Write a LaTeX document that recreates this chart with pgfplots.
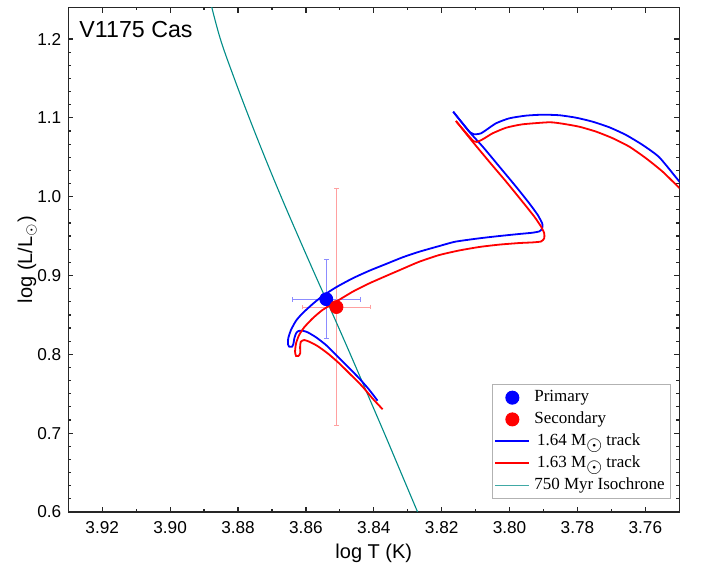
\documentclass[border=0pt]{standalone}
\usepackage{fontspec}
\setmainfont{Liberation Sans}
\newfontfamily\legfont{Liberation Serif}
\usepackage{graphicx}
\usepackage{pgfplots}
\pgfplotsset{compat=1.18}

\definecolor{trackblue}{RGB}{0,0,255}
\definecolor{trackred}{RGB}{255,0,0}
\definecolor{isoteal}{RGB}{0,140,135}
\definecolor{errblue}{RGB}{140,140,255}
\definecolor{errred}{RGB}{255,160,160}

\newcommand{\sun}{\raisebox{-0.55ex}{\scalebox{1.2}{$\odot$}}}

\begin{document}
\begin{tikzpicture}
\begin{axis}[
  name=ax,
  scale only axis,
  width=305.5pt, height=252.25pt,
  x dir=reverse,
  xmin=3.75, xmax=3.93,
  ymin=0.6, ymax=1.24,
  xtick={3.76,3.78,3.80,3.82,3.84,3.86,3.88,3.90,3.92},
  ytick={0.6,0.7,0.8,0.9,1.0,1.1,1.2},
  minor x tick num=1,
  minor y tick num=5,
  tick align=inside,
  major tick length=2.6pt, minor tick length=1.5pt,
  every tick/.style={black!85, line width=0.6pt},
  axis line style={line width=0.6pt, black!85},
  /pgf/number format/assume math mode=true,
  xticklabel style={/pgf/number format/fixed, /pgf/number format/fixed zerofill,
    /pgf/number format/precision=2, yshift=-1.4pt},
  yticklabel style={/pgf/number format/fixed, /pgf/number format/fixed zerofill,
    /pgf/number format/precision=1},
  tick label style={font=\fontsize{8.6}{10}\selectfont},
  label style={font=\fontsize{9}{11}\selectfont},
  xlabel={log T (K)},
  ylabel={log (L/L$_{\odot}$)},
  every axis x label/.style={at={(rel axis cs:0.5,0)}, yshift=-20.5pt, anchor=center},
  every axis y label/.style={at={(rel axis cs:0,0.5)}, xshift=-20.5pt, rotate=90, anchor=center},
  legend cell align=left,
  legend style={at={(rel axis cs:0.986,0.026)}, anchor=south east,
    draw=gray!60, line width=0.5pt, inner sep=0.8pt, row sep=-0.4pt,
    font=\legfont\fontsize{8.5}{9.7}\selectfont},
]

% error bars
\addplot[only marks, mark=none, forget plot,
  error bars/.cd, x dir=both, x explicit, y dir=both, y explicit,
  error bar style={errblue, line width=0.45pt},
  error mark options={rotate=90, errblue, mark size=1.2pt, line width=0.45pt}]
  coordinates {(3.854,0.87) +- (0.010,0.05)};
\addplot[only marks, mark=none, forget plot,
  error bars/.cd, x dir=both, x explicit, y dir=both, y explicit,
  error bar style={errred, line width=0.45pt},
  error mark options={rotate=90, errred, mark size=1.2pt, line width=0.45pt}]
  coordinates {(3.851,0.86) +- (0.010,0.15)};

% 750 Myr isochrone
\addplot[isoteal, line width=0.55pt, smooth, tension=0.6, forget plot] coordinates {
  (3.8883,1.2500) (3.8852,1.2000) (3.8811,1.1500) (3.8767,1.1000)
  (3.8721,1.0500) (3.8673,1.0000) (3.8623,0.9500) (3.8572,0.9000)
  (3.8520,0.8500) (3.8469,0.8000) (3.8419,0.7500) (3.8369,0.7000)
  (3.8320,0.6500) (3.8271,0.6000) (3.8261,0.5900)
};

% 1.64 Msun track: ZAMS to the blue tip
\addplot[trackblue, line width=0.9pt, smooth, tension=0.35, forget plot] coordinates {
  (3.8389,0.7412) (3.8413,0.7548) (3.8443,0.7696) (3.8472,0.7823)
  (3.8511,0.7992) (3.8541,0.8119) (3.8570,0.8216) (3.8595,0.8280)
  (3.8610,0.8300) (3.8622,0.8296) (3.8629,0.8267) (3.8634,0.8204)
  (3.8637,0.8130) (3.8641,0.8097) (3.8649,0.8097) (3.8653,0.8131)
  (3.8652,0.8204) (3.8644,0.8309) (3.8629,0.8427) (3.8610,0.8521)
  (3.8580,0.8639) (3.8551,0.8740) (3.8511,0.8851) (3.8462,0.8965)
  (3.8413,0.9061) (3.8364,0.9146) (3.8315,0.9231) (3.8266,0.9302)
  (3.8207,0.9374) (3.8160,0.9429) (3.8089,0.9472) (3.8030,0.9501)
  (3.7971,0.9527) (3.7932,0.9543) (3.7912,0.9560) (3.7905,0.9590)
  (3.7903,0.9620) (3.7904,0.9662) (3.7917,0.9768) (3.7942,0.9916)
  (3.7981,1.0127) (3.8030,1.0381) (3.8079,1.0634) (3.8119,1.0825)
  (3.8166,1.1078)
};
% 1.64 Msun track: back through the dip and across the top
\addplot[trackblue, line width=0.9pt, smooth, tension=0.35, forget plot] coordinates {
  (3.8166,1.1078) (3.8116,1.0815) (3.8099,1.0792) (3.8084,1.0804)
  (3.8069,1.0846) (3.8040,1.0931) (3.8001,1.0994) (3.7952,1.1028)
  (3.7903,1.1040) (3.7853,1.1033) (3.7804,1.1002) (3.7755,1.0951)
  (3.7706,1.0880) (3.7657,1.0783) (3.7608,1.0656) (3.7559,1.0500)
  (3.7502,1.0203) (3.7480,1.0089)
};

% 1.63 Msun track: ZAMS to the red tip
\addplot[trackred, line width=0.9pt, smooth, tension=0.35, forget plot] coordinates {
  (3.8374,0.7303) (3.8404,0.7442) (3.8433,0.7590) (3.8462,0.7716)
  (3.8502,0.7886) (3.8536,0.8013) (3.8566,0.8106) (3.8590,0.8160)
  (3.8605,0.8182) (3.8615,0.8160) (3.8617,0.8097) (3.8617,0.8013)
  (3.8622,0.7979) (3.8629,0.7979) (3.8632,0.8034) (3.8629,0.8140)
  (3.8620,0.8245) (3.8605,0.8343) (3.8580,0.8457) (3.8551,0.8563)
  (3.8511,0.8668) (3.8462,0.8795) (3.8413,0.8901) (3.8364,0.8994)
  (3.8315,0.9085) (3.8266,0.9175) (3.8207,0.9260) (3.8148,0.9318)
  (3.8089,0.9362) (3.8030,0.9392) (3.7971,0.9412) (3.7932,0.9420)
  (3.7907,0.9432) (3.7898,0.9472) (3.7898,0.9536) (3.7907,0.9619)
  (3.7927,0.9746) (3.7962,0.9936) (3.8010,1.0190) (3.8060,1.0444)
  (3.8109,1.0698) (3.8158,1.0960)
};
% 1.63 Msun track: back through the dip and across the top
\addplot[trackred, line width=0.9pt, smooth, tension=0.35, forget plot] coordinates {
  (3.8158,1.0960) (3.8106,1.0703) (3.8089,1.0707)
  (3.8074,1.0741) (3.8050,1.0804) (3.8010,1.0875) (3.7962,1.0918)
  (3.7883,1.0944) (3.7844,1.0926) (3.7795,1.0888) (3.7745,1.0825)
  (3.7696,1.0741) (3.7647,1.0634) (3.7598,1.0487) (3.7549,1.0317)
  (3.7502,1.0119) (3.7480,1.0027)
};

% components
\addplot[only marks, mark=*, mark size=3.25pt, color=trackblue, forget plot]
  coordinates {(3.854,0.87)};
\addplot[only marks, mark=*, mark size=3.25pt, color=trackred, forget plot]
  coordinates {(3.851,0.86)};

\addlegendimage{only marks, mark=*, mark size=3.25pt, trackblue}
\addlegendentry{Primary}
\addlegendimage{only marks, mark=*, mark size=3.25pt, trackred}
\addlegendentry{Secondary}
\addlegendimage{trackblue, line width=0.9pt}
\addlegendentry{\,1.64 M\sun\ track}
\addlegendimage{trackred, line width=0.9pt}
\addlegendentry{\,1.63 M\sun\ track}
\addlegendimage{isoteal!75, line width=0.8pt}
\addlegendentry{750 Myr Isochrone}
\end{axis}

\node[anchor=north west, inner sep=0pt, font=\fontsize{11.6}{14}\selectfont]
  at ([xshift=5.4pt,yshift=-6.6pt]ax.north west) {V1175 Cas};

\pgfresetboundingbox
\path ([xshift=-34.15pt,yshift=-26.5pt]ax.south west)
  rectangle ([xshift=12.85pt,yshift=3.75pt]ax.north east);
\end{tikzpicture}
\end{document}
